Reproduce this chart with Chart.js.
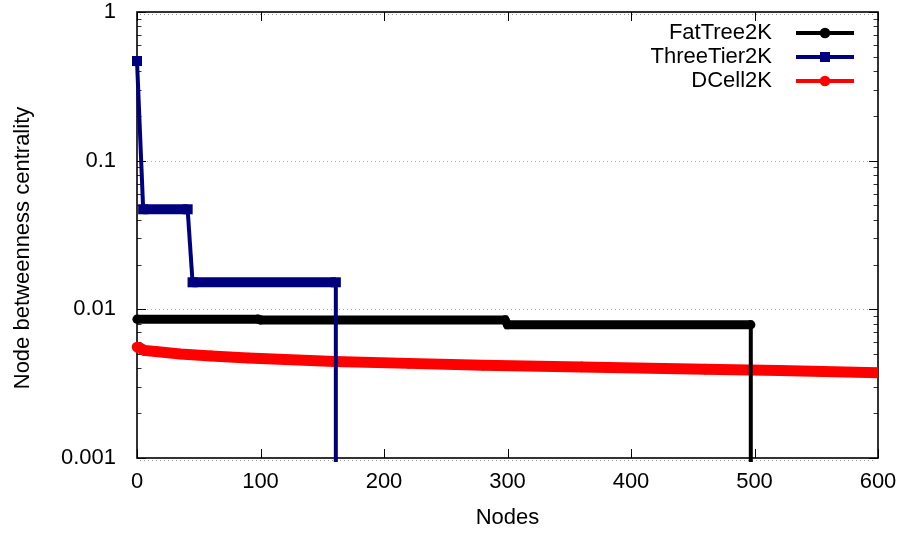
<!DOCTYPE html>
<html>
<head>
<meta charset="utf-8">
<script src="https://cdn.jsdelivr.net/npm/chart.js@4.4.1/dist/chart.umd.min.js"></script>
<style>
  html, body { margin: 0; padding: 0; background: #fff; }
  #wrap { width: 899px; height: 533px; }
</style>
</head>
<body>
<div id="wrap"><canvas id="chart"></canvas></div>
<script>
// breakpoints (x = node rank, y = betweenness), 0.0001 = dropped to zero
const fatTreeX = [0, 98, 100, 298, 300, 497, 497];
const fatTreeY = [0.00858, 0.00858, 0.00849, 0.00849, 0.00789, 0.00789, 0.0001];

const threeTierX = [0, 5, 41, 45, 161, 161];
const threeTierY = [0.468, 0.0471, 0.0471, 0.0152, 0.0152, 0.0001];

const dcellX = [0, 3, 6, 15, 35, 60, 90, 120, 160, 220, 280, 360, 460, 520, 600, 620];
const dcellY = [0.00558, 0.00546, 0.00529, 0.00521, 0.00501, 0.00486, 0.00471, 0.00460,
                0.00446, 0.00433, 0.00421, 0.00410, 0.00396, 0.00388, 0.00375, 0.00373];

const seriesNames = ['FatTree2K', 'ThreeTier2K', 'DCell2K'];
const yTicks = [0.001, 0.01, 0.1, 1];
const yTickLabels = ['0.001', '0.01', '0.1', '1'];
const yMinor = [2, 3, 4, 5, 6, 7, 8, 9];

const FONT = "'Liberation Sans', Arial, sans-serif";

function pts(xs, ys) {
    return xs.map((x, i) => ({ x: x, y: ys[i] }));
}

// flat runs are drawn thick like the packed markers, drops stay thin
function bandWidth(w) {
    return ctx => Math.abs(ctx.p1.parsed.y - ctx.p0.parsed.y) / Math.min(ctx.p1.parsed.y, ctx.p0.parsed.y) > 0.5 ? 4 : w;
}

const styles = [
    { color: '#000000', style: 'circle', radius: 4.6, band: 9 },
    { color: '#00007f', style: 'rect', radius: 7.1, band: 10 },
    { color: '#ff0000', style: 'circle', radius: 5.3, band: 11 }
];

const frame = {
    id: 'frame',
    beforeDatasetsDraw(chart) {
        const { ctx, chartArea: a, scales: { x, y } } = chart;
        ctx.save();
        // dotted grid at decades
        ctx.strokeStyle = '#b0b0b0';
        ctx.lineWidth = 1;
        ctx.setLineDash([1, 3]);
        [0.01, 0.1].forEach(v => {
            const py = Math.round(y.getPixelForValue(v)) + 0.5;
            ctx.beginPath();
            ctx.moveTo(a.left + 10, py);
            ctx.lineTo(a.right - 10, py);
            ctx.stroke();
        });
        // faint dotted x minor marks along top and bottom
        ctx.strokeStyle = '#999';
        [a.top + 2, a.bottom + 2].forEach(py => {
            ctx.beginPath();
            ctx.moveTo(a.left + 3, py + 0.5);
            ctx.lineTo(a.right - 2, py + 0.5);
            ctx.stroke();
        });
        ctx.setLineDash([]);

        // ticks, inward on all four sides
        ctx.strokeStyle = '#000';
        ctx.lineWidth = 1;
        yTicks.forEach(v => {
            const py = Math.round(y.getPixelForValue(v)) + 0.5;
            ctx.beginPath();
            ctx.moveTo(a.left, py); ctx.lineTo(a.left + 9, py);
            ctx.moveTo(a.right, py); ctx.lineTo(a.right - 9, py);
            ctx.stroke();
        });
        ctx.strokeStyle = '#333';
        yTicks.slice(0, 3).forEach(d => {
            yMinor.forEach(m => {
                const py = Math.round(y.getPixelForValue(d * m)) + 0.5;
                ctx.beginPath();
                ctx.moveTo(a.left, py); ctx.lineTo(a.left + 4.5, py);
                ctx.moveTo(a.right, py); ctx.lineTo(a.right - 4.5, py);
                ctx.stroke();
            });
        });
        ctx.strokeStyle = '#000';
        x.ticks.forEach(t => {
            const px = Math.round(x.getPixelForValue(t.value)) + 0.5;
            ctx.beginPath();
            ctx.moveTo(px, a.bottom); ctx.lineTo(px, a.bottom - 9);
            ctx.moveTo(px, a.top); ctx.lineTo(px, a.top + 9);
            ctx.stroke();
        });

        ctx.lineWidth = 1.6;
        ctx.strokeRect(a.left, a.top, a.right - a.left, a.bottom - a.top);
        ctx.restore();
    },
    afterDraw(chart) {
        const ctx = chart.ctx;
        ctx.save();
        // y axis title
        ctx.fillStyle = '#000';
        ctx.font = '22px ' + FONT;
        ctx.textAlign = 'center';
        ctx.textBaseline = 'middle';
        ctx.translate(23, 248);
        ctx.rotate(-Math.PI / 2);
        ctx.fillText('Node betweenness centrality', 0, 0);
        ctx.restore();

        // legend: text right aligned, line sample with marker on the right
        ctx.save();
        ctx.font = '22px ' + FONT;
        ctx.textAlign = 'right';
        ctx.textBaseline = 'middle';
        seriesNames.forEach((name, i) => {
            const s = styles[i];
            const py = 33 + 24 * i;
            ctx.fillStyle = '#000';
            ctx.fillText(name, 772, py);
            ctx.strokeStyle = s.color;
            ctx.lineWidth = 4;
            ctx.beginPath();
            ctx.moveTo(796, py); ctx.lineTo(854, py);
            ctx.stroke();
            ctx.fillStyle = s.color;
            if (s.style === 'rect') {
                ctx.fillRect(820, py - 5, 10, 10);
            } else {
                ctx.beginPath();
                ctx.arc(825, py, 5.3, 0, Math.PI * 2);
                ctx.fill();
            }
        });
        ctx.restore();
    }
};

const allX = [fatTreeX, threeTierX, dcellX];
const allY = [fatTreeY, threeTierY, dcellY];
const drawOrder = [1, 0, 2];

const datasets = seriesNames.map((name, i) => {
    const s = styles[i];
    return {
        label: name,
        data: pts(allX[i], allY[i]),
        order: drawOrder[i],
        borderColor: s.color,
        backgroundColor: s.color,
        borderWidth: s.band,
        segment: { borderWidth: bandWidth(s.band) },
        pointStyle: s.style,
        pointRadius: ctx => (ctx.raw && ctx.raw.y < 0.001 ? 0 : s.radius),
        pointBorderWidth: 0,
        pointBackgroundColor: s.color,
        pointBorderColor: s.color,
        tension: 0,
        clip: { left: 6, top: 0, right: 0, bottom: 4 }
    };
});

new Chart(document.getElementById('chart'), {
    type: 'line',
    data: { datasets: datasets },
    plugins: [frame],
    options: {
        responsive: true,
        maintainAspectRatio: false,
        animation: false,
        events: [],
        layout: { padding: { top: 12, right: 21, left: 0, bottom: 0 } },
        plugins: {
            legend: { display: false },
            tooltip: { enabled: false }
        },
        scales: {
            x: {
                type: 'linear',
                min: 0,
                max: 600,
                grid: { display: false, drawTicks: false },
                border: { display: false },
                ticks: {
                    stepSize: 100,
                    color: '#000',
                    padding: 13,
                    font: { family: FONT, size: 22, lineHeight: 1 },
                    maxRotation: 0
                },
                title: {
                    display: true,
                    text: 'Nodes',
                    color: '#000',
                    font: { family: FONT, size: 22, lineHeight: 1.2 },
                    padding: { top: 2, bottom: 2 }
                },
                afterFit: scale => {
                    scale.height = 75;
                    scale.paddingLeft = 0;
                    scale.paddingRight = 0;
                }
            },
            y: {
                type: 'logarithmic',
                min: 0.001,
                max: 1,
                grid: { display: false, drawTicks: false },
                border: { display: false },
                afterBuildTicks: scale => {
                    scale.ticks = yTicks.map(v => ({ value: v }));
                },
                ticks: {
                    autoSkip: false,
                    color: '#000',
                    padding: 21,
                    font: { family: FONT, size: 22, lineHeight: 1 },
                    callback: (v, i) => yTickLabels[i]
                },
                afterFit: scale => {
                    scale.width = 137;
                    scale.paddingTop = 0;
                    scale.paddingBottom = 0;
                }
            }
        }
    }
});
</script>
</body>
</html>
